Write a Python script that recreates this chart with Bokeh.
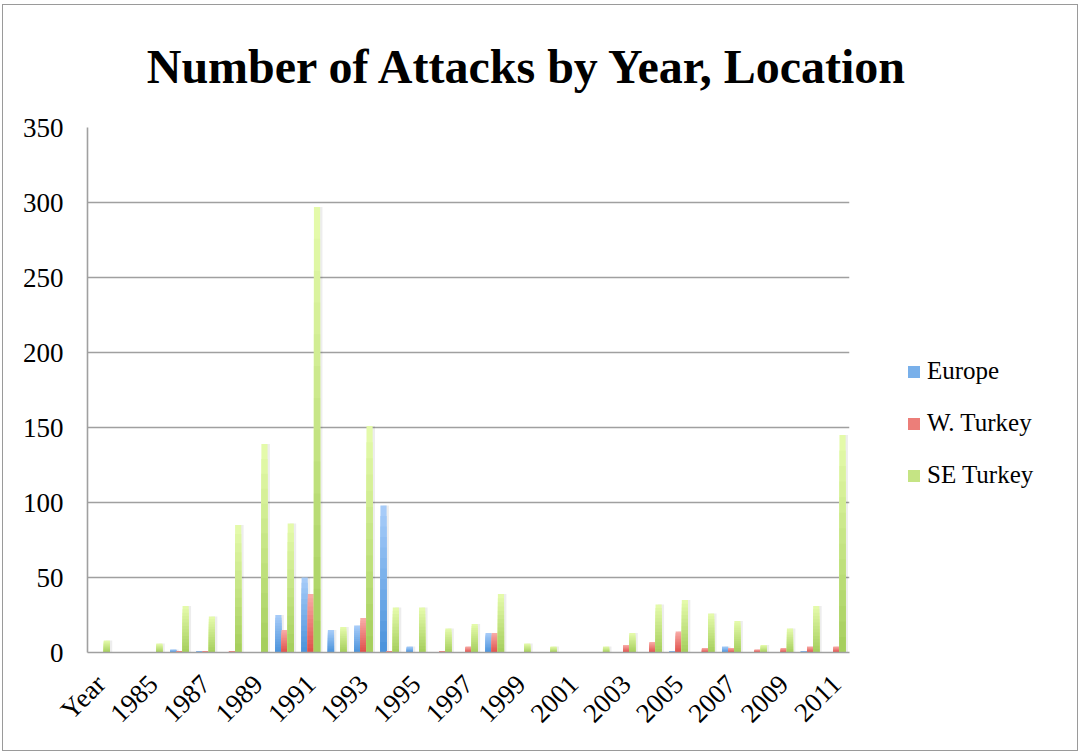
import numpy as np
from bokeh.plotting import figure
from bokeh.layouts import row, column
from bokeh.models import Range1d, FixedTicker, Legend, LegendItem, Label
from bokeh.embed import file_html
from bokeh.resources import INLINE

# ---- data ----
categories = ["Year", "1984", "1985", "1986", "1987", "1988", "1989", "1990",
              "1991", "1992", "1993", "1994", "1995", "1996", "1997", "1998",
              "1999", "2000", "2001", "2002", "2003", "2004", "2005", "2006",
              "2007", "2008", "2009", "2010", "2011"]
europe = [0, 0, 0, 2, 1, 0, 0, 25, 50, 15, 18, 98, 4, 0, 0, 13,
          0, 0, 0, 0, 0, 0, 1, 0, 4, 0, 0, 1, 0]
w_turkey = [0, 0, 0, 1, 1, 1, 0, 15, 39, 0, 23, 1, 0, 1, 4, 13,
            0, 0, 0, 0, 5, 7, 14, 3, 3, 2, 3, 4, 4]
se_turkey = [8, 0, 6, 31, 24, 85, 139, 86, 297, 17, 151, 30, 30, 16, 19, 39,
             6, 4, 0, 4, 13, 32, 35, 26, 21, 5, 16, 31, 145]
series_names = ["Europe", "W. Turkey", "SE Turkey"]
y_ticks = [0, 50, 100, 150, 200, 250, 300, 350]
title_text = "Number of Attacks by Year, Location"

# ---- styling ----
gradients = [((166, 203, 248), (76, 148, 220)),
             ((248, 170, 166), (224, 82, 76)),
             ((228, 250, 170), (166, 207, 94))]
offsets = [-0.235, 0.0, 0.235]
bar_w = 0.235
n_layers = 14
SERIF = "Liberation Serif"
W_TOTAL = 1074
H_TOP = 100
H_MAIN = 645

# ---- title strip ----
pt = figure(width=W_TOTAL, height=H_TOP, x_range=Range1d(0, W_TOTAL), y_range=Range1d(0, H_TOP),
            output_backend="svg", toolbar_location=None,
            x_axis_type=None, y_axis_type=None,
            min_border=0, min_border_left=0, min_border_right=0,
            min_border_top=0, min_border_bottom=0)
pt.outline_line_color = None
pt.xgrid.visible = False
pt.ygrid.visible = False
pt.add_layout(Label(x=525, y=39, text=title_text, text_align="center",
                    text_baseline="alphabetic", text_font=SERIF, text_font_style="bold",
                    text_font_size="48px", text_color="black"))

# ---- main chart ----
p = figure(width=856, height=H_MAIN,
           x_range=Range1d(-0.5, len(categories) - 0.5),
           y_range=Range1d(0, 350),
           output_backend="svg", toolbar_location=None,
           min_border_left=84, min_border_right=10,
           min_border_top=22, min_border_bottom=98)

p.outline_line_color = None
p.xgrid.grid_line_color = None
p.ygrid.grid_line_color = "#a0a0a0"
p.ygrid.grid_line_width = 1.6
p.ygrid.ticker = FixedTicker(ticks=y_ticks)

p.yaxis.ticker = FixedTicker(ticks=y_ticks)
p.yaxis.major_tick_out = 0
p.yaxis.major_tick_in = 0
p.yaxis.minor_tick_line_color = None
p.yaxis.axis_line_color = "#a0a0a0"
p.yaxis.axis_line_width = 1.6
p.yaxis.major_label_text_font = SERIF
p.yaxis.major_label_text_font_size = "27px"
p.yaxis.major_label_text_color = "black"
p.yaxis.major_label_standoff = 24

xt = list(range(0, len(categories), 2))
p.xaxis.ticker = FixedTicker(ticks=xt)
p.xaxis.major_label_overrides = {i: categories[i] for i in xt}
p.xaxis.major_tick_out = 0
p.xaxis.major_tick_in = 0
p.xaxis.minor_tick_line_color = None
p.xaxis.axis_line_color = "#a0a0a0"
p.xaxis.axis_line_width = 1.6
p.xaxis.major_label_text_font = SERIF
p.xaxis.major_label_text_font_size = "27px"
p.xaxis.major_label_text_color = "black"
p.xaxis.major_label_orientation = np.pi / 4
p.xaxis.major_label_standoff = 27

xs = np.arange(len(categories))
for name, vals, (ctop, cbot), off in zip(series_names, [europe, w_turkey, se_turkey], gradients, offsets):
    v = np.array(vals, dtype=float)
    # soft shadow
    p.vbar(x=xs + off + 0.09, top=v, width=bar_w, fill_color="#000000",
           fill_alpha=0.07, line_color=None)
    for k in range(n_layers):
        t = k / (n_layers - 1)
        col = tuple(int(round(a + (b - a) * t)) for a, b in zip(ctop, cbot))
        p.vbar(x=xs + off, top=v * (1 - k / n_layers), width=bar_w,
               fill_color="#%02x%02x%02x" % col, line_color=None)

# ---- legend panel ----
pl = figure(width=W_TOTAL - 856, height=H_MAIN, x_range=Range1d(0, 1), y_range=Range1d(0, 1),
            output_backend="svg", toolbar_location=None,
            x_axis_type=None, y_axis_type=None,
            min_border=0, min_border_left=0, min_border_right=0,
            min_border_top=0, min_border_bottom=0)
pl.outline_line_color = None
pl.xgrid.visible = False
pl.ygrid.visible = False
legend_items = []
for name, (ctop, cbot) in zip(series_names, gradients):
    mid = tuple(int(round((a + b) / 2)) for a, b in zip(ctop, cbot))
    # off-screen placeholder renderer so the legend has a swatch
    r = pl.vbar(x=[5.0], top=[0.0], width=0.1, fill_color="#%02x%02x%02x" % mid, line_color=None)
    legend_items.append(LegendItem(label=name, renderers=[r]))

legend = Legend(items=legend_items, location=(47, 162))
legend.border_line_color = None
legend.background_fill_alpha = 0
legend.padding = 0
legend.margin = 0
legend.glyph_width = 15
legend.glyph_height = 15
legend.label_height = 30
legend.spacing = 22
legend.label_standoff = 6
legend.label_text_font = SERIF
legend.label_text_font_size = "25px"
legend.label_text_color = "black"
pl.add_layout(legend, "center")

layout = column(pt, row(p, pl))
layout.styles = {"border": "1px solid #9a9a9a", "margin-left": "2px", "margin-top": "4px"}

open("out.html", "w").write(file_html(layout, INLINE))
